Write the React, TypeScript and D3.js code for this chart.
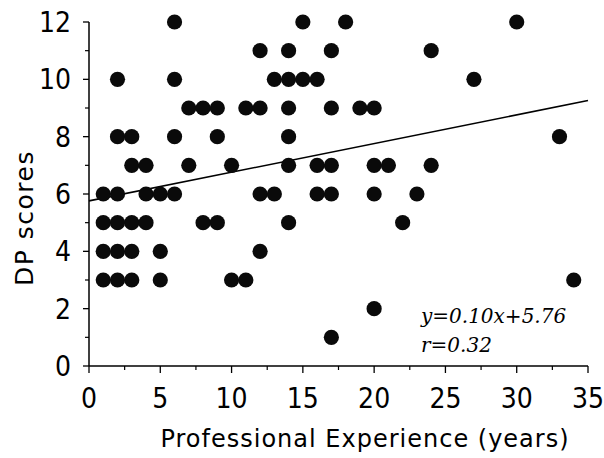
import React from "react";
import * as d3 from "d3";

const experience = [
  6, 15, 18, 30,
  12, 14, 17, 24,
  2, 6, 13, 14, 15, 16, 27,
  7, 8, 9, 11, 12, 14, 17, 19, 20,
  2, 3, 6, 9, 14, 33,
  3, 4, 7, 10, 14, 16, 17, 20, 21, 24,
  1, 2, 4, 5, 6, 12, 13, 16, 17, 20, 23,
  1, 2, 3, 4, 8, 9, 14, 22,
  1, 2, 3, 5, 12,
  1, 2, 3, 5, 10, 11, 34,
  20,
  17,
];
const dpScores = [
  12, 12, 12, 12,
  11, 11, 11, 11,
  10, 10, 10, 10, 10, 10, 10,
  9, 9, 9, 9, 9, 9, 9, 9, 9,
  8, 8, 8, 8, 8, 8,
  7, 7, 7, 7, 7, 7, 7, 7, 7, 7,
  6, 6, 6, 6, 6, 6, 6, 6, 6, 6, 6,
  5, 5, 5, 5, 5, 5, 5, 5,
  4, 4, 4, 4, 4,
  3, 3, 3, 3, 3, 3, 3,
  2,
  1,
];
const xTicks = [0, 5, 10, 15, 20, 25, 30, 35];
const xMinorTicks = [2.5, 7.5, 12.5, 17.5, 22.5, 27.5, 32.5];
const yTicks = [0, 2, 4, 6, 8, 10, 12];
const yMinorTicks = [1, 3, 5, 7, 9, 11];
const slope = 0.1;
const intercept = 5.76;
const lineExtent = [0, 35];
const equationLabel = "y=0.10x+5.76";
const rLabel = "r=0.32";
const xTitle = "Professional Experience (years)";
const yTitle = "DP scores";

const W = 604;
const H = 458;

export default function App() {
  const x = d3.scaleLinear().domain([0, 35]).range([89, 588]);
  const y = d3.scaleLinear().domain([0, 12]).range([366, 22]);
  const tickFont = "'Liberation Sans Narrow', 'DejaVu Sans Condensed', 'Liberation Sans', sans-serif";
  const titleFont = "'DejaVu Sans', Verdana, sans-serif";
  const linePath = d3.line<number>()
    .x((d) => x(d))
    .y((d) => y(slope * d + intercept))(lineExtent) as string;
  const x0 = x(0);
  const y0 = y(0);
  return (
    <svg
      width={W}
      height={H}
      viewBox={`0 0 ${W} ${H}`}
      style={{ position: "absolute", left: 0, top: 0, background: "#fff" }}
    >
      <rect x={0} y={0} width={W} height={H} fill="#fff" />
      {/* axes */}
      <line x1={x0} x2={x0} y1={y(12)} y2={y0} stroke="#000" strokeWidth={1.5} />
      <line x1={x0} x2={x(35)} y1={y0} y2={y0} stroke="#000" strokeWidth={1.5} />
      {yTicks.map((t) => (
        <line key={"yt" + t} x1={x0 - 6} x2={x0} y1={y(t)} y2={y(t)} stroke="#000" strokeWidth={1.3} />
      ))}
      {yMinorTicks.map((t) => (
        <line key={"ym" + t} x1={x0 - 4} x2={x0} y1={y(t)} y2={y(t)} stroke="#000" strokeWidth={1.2} />
      ))}
      {xTicks.map((t) => (
        <line key={"xt" + t} x1={x(t)} x2={x(t)} y1={y0} y2={y0 + 7} stroke="#000" strokeWidth={1.3} />
      ))}
      {xMinorTicks.map((t) => (
        <line key={"xm" + t} x1={x(t)} x2={x(t)} y1={y0} y2={y0 + 4} stroke="#000" strokeWidth={1.2} />
      ))}
      {yTicks.map((t) => (
        <text
          key={"yl" + t}
          x={71}
          y={y(t) + 10}
          textAnchor="end"
          fontFamily={tickFont}
          fontSize={28}
          fill="#000"
        >
          {t}
        </text>
      ))}
      {xTicks.map((t) => (
        <text
          key={"xl" + t}
          x={x(t)}
          y={408}
          textAnchor="middle"
          fontFamily={tickFont}
          fontSize={28}
          fill="#000"
        >
          {t}
        </text>
      ))}
      {/* regression line */}
      <path d={linePath} fill="none" stroke="#000" strokeWidth={1.6} />
      {/* points */}
      {experience.map((e, i) => (
        <circle key={"p" + i} cx={x(e)} cy={y(dpScores[i])} r={7.6} fill="#0a0a0a" />
      ))}
      {/* annotation */}
      <text x={421} y={323} fontFamily="'DejaVu Serif', serif" fontStyle="italic" fontSize={20} fill="#000">
        {equationLabel}
      </text>
      <text x={421} y={352} fontFamily="'DejaVu Serif', serif" fontStyle="italic" fontSize={20} fill="#000">
        {rLabel}
      </text>
      {/* titles */}
      <text
        x={365}
        y={447}
        textAnchor="middle"
        fontFamily={titleFont}
        fontSize={24}
        letterSpacing={1}
        fill="#000"
      >
        {xTitle}
      </text>
      <text
        transform={`translate(33,218) rotate(-90)`}
        textAnchor="middle"
        fontFamily={titleFont}
        fontSize={25}
        letterSpacing={1.5}
        fill="#000"
      >
        {yTitle}
      </text>
    </svg>
  );
}
